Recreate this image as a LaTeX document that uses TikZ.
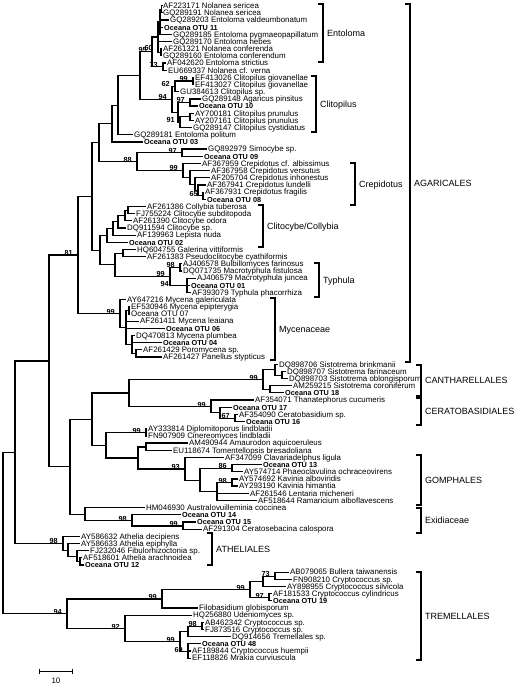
\documentclass[tikz,border=0pt]{standalone}
\usepackage{fontspec}
\setmainfont{Liberation Sans}
\newcommand\lff{\fontsize{7.9}{8}\selectfont}
\newcommand\lfb{\fontsize{7.3}{8}\selectfont\bfseries}
\newcommand\bsf{\fontsize{7.3}{8}\selectfont\bfseries}
\newcommand\cff{\fontsize{9}{10}\selectfont}
\newcommand\Lf[4]{\node[#4] (L#1) at ({#2-1.2},{5.7+(#1-1)*7.17}) {#3};}
\newcommand\E[2]{\foreach \c in {#2} {\draw[br] (#1) |- (\c);}}
\newcommand\B[2]{\node[bs] (b#1) at ([xshift=-5pt,yshift=-0.5pt]#1) {#2};}
\newcommand\K[5]{\draw[brk] ({#1-5},#2) -- (#1,#2) -- (#1,#3) -- ({#1-5},#3);
  \node[clade] (k#4) at ({#1+4},{(#2+#3)/2}) {#5};}
\tikzset{
  br/.style={line width=1.2pt},
  brk/.style={line width=1.4pt},
  leaf/.style={anchor=west, inner xsep=1.2pt, inner ysep=0pt, text height=5.6pt, text depth=0pt, font=\lff},
  otu/.style={leaf, font=\lfb},
  bs/.style={anchor=base east, inner sep=0pt, font=\bsf},
  clade/.style={anchor=west, inner sep=0pt, text height=6.5pt, text depth=0pt, font=\cff},
}
\begin{document}
\begin{tikzpicture}[x=1pt,y=-1pt]
\useasboundingbox[fill=white] (0,0) rectangle (520,687);
% leaves
\Lf{1}{163}{AF223171 Nolanea sericea}{leaf}
\Lf{2}{163}{GQ289191 Nolanea sericea}{leaf}
\Lf{3}{170}{GQ289203 Entoloma valdeumbonatum}{leaf}
\Lf{4}{164}{Oceana OTU 11}{otu}
\Lf{5}{173}{GQ289185 Entoloma pygmaeopapillatum}{leaf}
\Lf{6}{173}{GQ289170 Entoloma hebes}{leaf}
\Lf{7}{163}{AF261321 Nolanea conferenda}{leaf}
\Lf{8}{163}{GQ289160 Entoloma conferendum}{leaf}
\Lf{9}{167}{AF042620 Entoloma strictius}{leaf}
\Lf{10}{168}{EU669337 Nolanea cf. verna}{leaf}
\Lf{11}{195}{EF413026 Clitopilus giovanellae}{leaf}
\Lf{12}{195}{EF413027 Clitopilus giovanellae}{leaf}
\Lf{13}{180}{GU384613 Clitopilus sp.}{leaf}
\Lf{14}{202}{GQ289148 Agaricus pinsitus}{leaf}
\Lf{15}{199}{Oceana OTU 10}{otu}
\Lf{16}{195}{AY700181 Clitopilus prunulus}{leaf}
\Lf{17}{195}{AY207161 Clitopilus prunulus}{leaf}
\Lf{18}{193}{GQ289147 Clitopilus cystidiatus}{leaf}
\Lf{19}{134}{GQ289181 Entoloma politum}{leaf}
\Lf{20}{144}{Oceana OTU 03}{otu}
\Lf{21}{208}{GQ892979 Simocybe sp.}{leaf}
\Lf{22}{204}{Oceana OTU 09}{otu}
\Lf{23}{202}{AF367959 Crepidotus cf. albissimus}{leaf}
\Lf{24}{211}{AF367958 Crepidotus versutus}{leaf}
\Lf{25}{211}{AF205704 Crepidotus inhonestus}{leaf}
\Lf{26}{207}{AF367941 Crepidotus lundelli}{leaf}
\Lf{27}{205}{AF367931 Crepidotus fragilis}{leaf}
\Lf{28}{207}{Oceana OTU 08}{otu}
\Lf{29}{147}{AF261386 Collybia tuberosa}{leaf}
\Lf{30}{136}{FJ755224 Clitocybe subditopoda}{leaf}
\Lf{31}{133}{AF261390 Clitocybe odora}{leaf}
\Lf{32}{127}{DQ911594 Clitocybe sp.}{leaf}
\Lf{33}{137}{AF139963 Lepista nuda}{leaf}
\Lf{34}{129}{Oceana OTU 02}{otu}
\Lf{35}{137}{HQ604755 Galerina vittiformis}{leaf}
\Lf{36}{147}{AF261383 Pseudoclitocybe cyathiformis}{leaf}
\Lf{37}{183}{AJ406578 Bulbillomyces farinosus}{leaf}
\Lf{38}{183}{DQ071735 Macrotyphula fistulosa}{leaf}
\Lf{39}{197}{AJ406579 Macrotyphula juncea}{leaf}
\Lf{40}{191}{Oceana OTU 01}{otu}
\Lf{41}{192}{AF393079 Typhula phacorrhiza}{leaf}
\Lf{42}{127}{AY647216 Mycena galericulata}{leaf}
\Lf{43}{131}{EF530946 Mycena epipterygia}{leaf}
\Lf{44}{131}{Oceana OTU 07}{leaf}
\Lf{45}{140}{AF261411 Mycena leaiana}{leaf}
\Lf{46}{166}{Oceana OTU 06}{otu}
\Lf{47}{136}{DQ470813 Mycena plumbea}{leaf}
\Lf{48}{163}{Oceana OTU 04}{otu}
\Lf{49}{143}{AF261429 Poromycena sp.}{leaf}
\Lf{50}{163}{AF261427 Panellus stypticus}{leaf}
\Lf{51}{279}{DQ898706 Sistotrema brinkmanii}{leaf}
\Lf{52}{287}{DQ898707 Sistotrema farinaceum}{leaf}
\Lf{53}{289}{DQ898703 Sistotrema oblongisporum}{leaf}
\Lf{54}{293}{AM259215 Sistotrema coroniferum}{leaf}
\Lf{55}{285}{Oceana OTU 18}{otu}
\Lf{56}{255}{AF354071 Thanatephorus cucumeris}{leaf}
\Lf{57}{233}{Oceana OTU 17}{otu}
\Lf{58}{239}{AF354090 Ceratobasidium sp.}{leaf}
\Lf{59}{246}{Oceana OTU 16}{otu}
\Lf{60}{148}{AY333814 Diplomitoporus lindbladii}{leaf}
\Lf{61}{148}{FN907909 Cinereomyces lindbladii}{leaf}
\Lf{62}{189}{AM490944 Amaurodon aquicoeruleus}{leaf}
\Lf{63}{173}{EU118674 Tomentellopsis bresadoliana}{leaf}
\Lf{64}{225}{AF347099 Clavariadelphus ligula}{leaf}
\Lf{65}{263}{Oceana OTU 13}{otu}
\Lf{66}{244}{AY574714 Phaeoclavulina ochraceovirens}{leaf}
\Lf{67}{239}{AY574692 Kavinia alboviridis}{leaf}
\Lf{68}{239}{AY293190 Kavinia himantia}{leaf}
\Lf{69}{250}{AF261546 Lentaria micheneri}{leaf}
\Lf{70}{258}{AF518644 Ramaricium alboflavescens}{leaf}
\Lf{71}{146}{HM046930 Australovuilleminia coccinea}{leaf}
\Lf{72}{182}{Oceana OTU 14}{otu}
\Lf{73}{197}{Oceana OTU 15}{otu}
\Lf{74}{203}{AF291304 Ceratosebacina calospora}{leaf}
\Lf{75}{81}{AY586632 Athelia decipiens}{leaf}
\Lf{76}{81}{AY586633 Athelia epiphylla}{leaf}
\Lf{77}{90}{FJ232046 Fibulorhizoctonia sp.}{leaf}
\Lf{78}{83}{AF518601 Athelia arachnoidea}{leaf}
\Lf{79}{85}{Oceana OTU 12}{otu}
\Lf{80}{290}{AB079065 Bullera taiwanensis}{leaf}
\Lf{81}{293}{FN908210 Cryptococcus sp.}{leaf}
\Lf{82}{287}{AY898955 Cryptococcus silvicola}{leaf}
\Lf{83}{273}{AF181533 Cryptococcus cylindricus}{leaf}
\Lf{84}{273}{Oceana OTU 19}{otu}
\Lf{85}{199}{Filobasidium globisporum}{leaf}
\Lf{86}{193}{HQ256880 Udeniomyces sp.}{leaf}
\Lf{87}{205}{AB462342 Cryptococcus sp.}{leaf}
\Lf{88}{205}{FJ873516 Cryptococcus sp.}{leaf}
\Lf{89}{232}{DQ914656 Tremellales sp.}{leaf}
\Lf{90}{202}{Oceana OTU 48}{otu}
\Lf{91}{192}{AF189844 Cryptococcus huempii}{leaf}
\Lf{92}{192}{EF118826 Mrakia curviuscula}{leaf}
% internal nodes
\coordinate (e12) at (161.5,9.3);
\coordinate (eA) at (160,21.9);
\coordinate (e78) at (161,52.3);
\coordinate (e60) at (158,37.1);
\coordinate (e73) at (163,66.7);
\coordinate (e95) at (152,51.9);
\coordinate (cl99) at (193,81);
\coordinate (cl62) at (175,86.4);
\coordinate (cl97) at (190,102.5);
\coordinate (cla) at (190,116.9);
\coordinate (cl91) at (180,122.3);
\coordinate (cl178) at (178,112.4);
\coordinate (cl94) at (172,99.4);
\coordinate (n140) at (140,75.7);
\coordinate (n118) at (118,105.2);
\coordinate (n112) at (112,123.6);
\coordinate (sim97) at (182,152.7);
\coordinate (cr65) at (203,195.7);
\coordinate (crD) at (198,190.4);
\coordinate (crC) at (195,184.1);
\coordinate (crB) at (190,177.4);
\coordinate (cr99) at (183,170.4);
\coordinate (n88) at (137,161.6);
\coordinate (n99u) at (99,142.6);
\coordinate (c1) at (128,210.1);
\coordinate (c2) at (125,215.5);
\coordinate (c3) at (118,221.7);
\coordinate (c4) at (113,228.5);
\coordinate (c5) at (107,235.4);
\coordinate (gal) at (123,253.2);
\coordinate (ty98) at (180,267.4);
\coordinate (tyP) at (187,285.4);
\coordinate (ty99) at (170,276.4);
\coordinate (n115) at (115,264.8);
\coordinate (n100) at (100,250.1);
\coordinate (n92) at (92,196.4);
\coordinate (myB) at (129,310.5);
\coordinate (myD) at (136,353.5);
\coordinate (myC) at (132,344.6);
\coordinate (myA) at (126,327.5);
\coordinate (myc99) at (120,313.6);
\coordinate (n81) at (78,255);
\coordinate (cD) at (282,375.1);
\coordinate (cC) at (275,369.7);
\coordinate (cE) at (270,389.4);
\coordinate (canth99) at (263,379.6);
\coordinate (cer67) at (235,418.2);
\coordinate (cer1) at (220,412.8);
\coordinate (cer99) at (211,406.5);
\coordinate (n129) at (129,393);
\coordinate (dip99) at (146,432.5);
\coordinate (amau) at (146,446.9);
\coordinate (g86) at (232,468.4);
\coordinate (g98) at (232,482.8);
\coordinate (g2) at (217,491.8);
\coordinate (g1) at (200,480.1);
\coordinate (gomph93) at (185,468.9);
\coordinate (n138) at (138,457.9);
\coordinate (n106) at (106,445.2);
\coordinate (n92b) at (92,419.1);
\coordinate (ex99) at (183,525.9);
\coordinate (ex98) at (132,520.5);
\coordinate (n85) at (85,514.2);
\coordinate (n70) at (70,466.7);
\coordinate (n49) at (49,360.9);
\coordinate (a3) at (80,561.8);
\coordinate (a2) at (77,556.4);
\coordinate (a1) at (68,550.1);
\coordinate (ath98) at (63,543.4);
\coordinate (n15) at (15,452.1);
\coordinate (t73) at (275,576.1);
\coordinate (t1) at (263,581.5);
\coordinate (t97) at (269,597.7);
\coordinate (t99a) at (250,589.6);
\coordinate (t99b) at (162,599);
\coordinate (t98) at (202,626.4);
\coordinate (t2) at (188,631.8);
\coordinate (t69) at (188,651.5);
\coordinate (t99c) at (180,641.7);
\coordinate (t92) at (125,628.7);
\coordinate (t94) at (67,613.8);
\coordinate (root) at (3,533);
% edges
\E{e12}{L1.west,L2.west}
\E{eA}{e12,L3.west,L4.west,L5.west}
\E{e78}{L7.west,L8.west}
\E{e60}{eA,L6.west,e78}
\E{e73}{L9.west,L10.west}
\E{e95}{e60,e73}
\E{cl99}{L11.west,L12.west}
\E{cl62}{cl99,L13.west}
\E{cl97}{L14.west,L15.west}
\E{cla}{L16.west,L17.west}
\E{cl91}{cla,L18.west}
\E{cl178}{cl97,cl91}
\E{cl94}{cl62,cl178}
\E{n140}{e95,cl94}
\E{n118}{n140,L19.west}
\E{n112}{n118,L20.west}
\E{sim97}{L21.west,L22.west}
\E{cr65}{L27.west,L28.west}
\E{crD}{L26.west,cr65}
\E{crC}{L25.west,crD}
\E{crB}{L24.west,crC}
\E{cr99}{L23.west,crB}
\E{n88}{sim97,cr99}
\E{n99u}{n112,n88}
\E{c1}{L29.west,L30.west}
\E{c2}{c1,L31.west}
\E{c3}{c2,L32.west}
\E{c4}{c3,L33.west}
\E{c5}{c4,L34.west}
\E{gal}{L35.west,L36.west}
\E{ty98}{L37.west,L38.west}
\E{tyP}{L39.west,L40.west,L41.west}
\E{ty99}{ty98,tyP}
\E{n115}{gal,ty99}
\E{n100}{c5,n115}
\E{n92}{n99u,n100}
\E{myB}{L43.west,L44.west}
\E{myD}{L49.west,L50.west}
\E{myC}{L47.west,L48.west,myD}
\E{myA}{myB,L45.west,L46.west,myC}
\E{myc99}{L42.west,myA}
\E{n81}{n92,myc99}
\E{cD}{L52.west,L53.west}
\E{cC}{L51.west,cD}
\E{cE}{L54.west,L55.west}
\E{canth99}{cC,cE}
\E{cer67}{L58.west,L59.west}
\E{cer1}{L57.west,cer67}
\E{cer99}{L56.west,cer1}
\E{n129}{canth99,cer99}
\E{dip99}{L60.west,L61.west}
\E{amau}{L62.west,L63.west}
\E{g86}{L65.west,L66.west}
\E{g98}{L67.west,L68.west}
\E{g2}{g98,L69.west,L70.west}
\E{g1}{g86,g2}
\E{gomph93}{L64.west,g1}
\E{n138}{amau,gomph93}
\E{n106}{dip99,n138}
\E{n92b}{n129,n106}
\E{ex99}{L73.west,L74.west}
\E{ex98}{L72.west,ex99}
\E{n85}{L71.west,ex98}
\E{n70}{n92b,n85}
\E{n49}{n81,n70}
\E{a3}{L78.west,L79.west}
\E{a2}{L77.west,a3}
\E{a1}{L76.west,a2}
\E{ath98}{L75.west,a1}
\E{n15}{n49,ath98}
\E{t73}{L80.west,L81.west}
\E{t1}{t73,L82.west}
\E{t97}{L83.west,L84.west}
\E{t99a}{t1,t97}
\E{t99b}{t99a,L85.west}
\E{t98}{L87.west,L88.west}
\E{t2}{t98,L89.west}
\E{t69}{L90.west,L91.west,L92.west}
\E{t99c}{t2,t69}
\E{t92}{L86.west,t99c}
\E{t94}{t99b,t92}
\E{root}{n15,t94}
% bootstrap values
\B{e95}{95}
\node[bs] (be60) at (153,50.5) {60};
\B{e73}{73}
\B{cl99}{99}
\B{cl62}{62}
\B{cl97}{97}
\B{cl91}{91}
\B{cl94}{94}
\B{sim97}{97}
\B{cr99}{99}
\B{cr65}{65}
\B{n88}{88}
\B{ty98}{98}
\node[bs] (btyP) at (169,286.5) {94};
\B{ty99}{99}
\B{myc99}{99}
\B{n81}{81}
\B{canth99}{99}
\B{cer99}{99}
\B{cer67}{67}
\B{dip99}{99}
\B{gomph93}{93}
\B{g86}{86}
\B{g98}{98}
\B{ex98}{98}
\B{ex99}{99}
\B{ath98}{98}
\B{t73}{73}
\B{t99a}{99}
\B{t97}{97}
\B{t99b}{99}
\B{t98}{98}
\B{t99c}{99}
\B{t69}{69}
\B{t92}{92}
\B{t94}{94}
% clade brackets
\K{323}{4}{62}{ento}{Entoloma}
\K{316}{76}{132}{clit}{Clitopilus}
\K{355}{163}{205}{crep}{Crepidotus}
\K{263}{205}{247}{clcy}{Clitocybe/Collybia}
\K{319}{263}{297}{typh}{Typhula}
\K{275}{298}{360}{myce}{Mycenaceae}
\K{410}{4}{362}{agar}{AGARICALES}
\K{421}{365}{396}{cant}{CANTHARELLALES}
\K{421}{398}{425}{cera}{CERATOBASIDIALES}
\K{421}{455}{505}{gomp}{GOMPHALES}
\K{421}{508}{533}{exid}{Exidiaceae}
\K{212}{533}{565}{athe}{ATHELIALES}
\K{421}{572}{660}{trem}{TREMELLALES}
% scale bar
\coordinate (s1) at (39.3,671.7);
\coordinate (s2) at (72.3,671.7);
\draw[line width=0.8pt] (s1) -- (s2) ([yshift=2.5pt]s1) -- ([yshift=-2.5pt]s1) ([yshift=2.5pt]s2) -- ([yshift=-2.5pt]s2);
\node[font=\lff, inner sep=0pt] (sl) at (56,681) {10};
\end{tikzpicture}
\end{document}
